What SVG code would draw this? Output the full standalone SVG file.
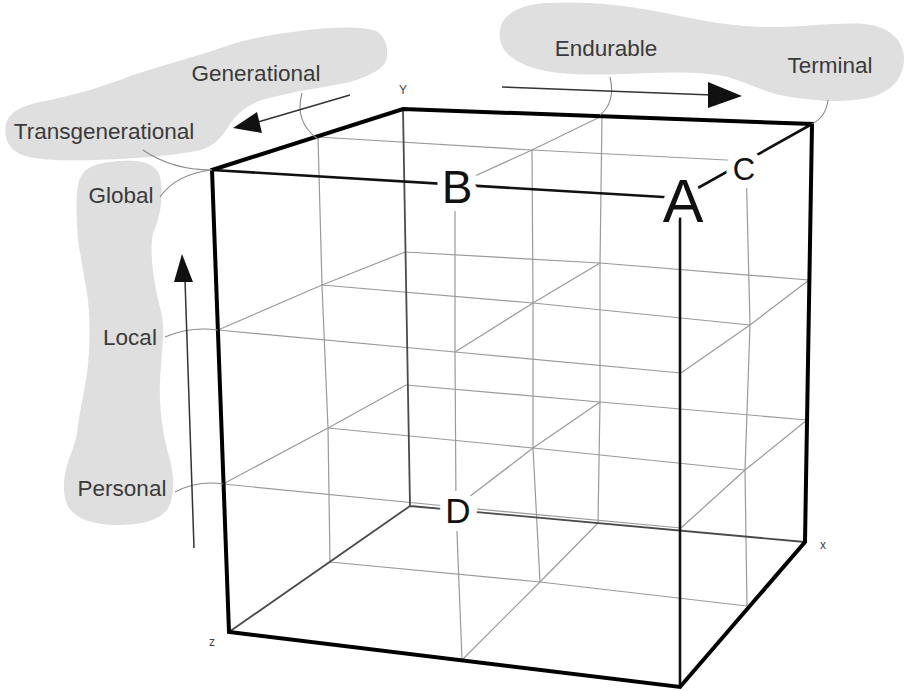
<svg xmlns="http://www.w3.org/2000/svg" width="907" height="691" viewBox="0 0 907 691">
<style>
.blob{fill:#dfdfdf;stroke:none}
.lbl{font-family:"Liberation Sans",Arial,sans-serif;font-size:22.5px;fill:#3a3a3a;text-anchor:middle}
.ax{font-family:"Liberation Sans",Arial,sans-serif;font-size:12px;fill:#444;text-anchor:middle}
.grid{fill:none;stroke:#9a9a9a;stroke-width:1.2}
.hid{fill:none;stroke:#4a4a4a;stroke-width:1.8}
.near{fill:none;stroke:#111;stroke-width:2.6}
.sil{fill:none;stroke:#000;stroke-width:4;stroke-linejoin:miter}
.lead{fill:none;stroke:#8a8a8a;stroke-width:1.1}
.arr{fill:none;stroke:#333;stroke-width:1.5}
.head{fill:#111}
.big{font-family:"Liberation Sans",Arial,sans-serif;fill:#111;text-anchor:middle;stroke:#fff;stroke-width:16;stroke-linejoin:round;paint-order:stroke}
</style>
<rect width="907" height="691" fill="#fff"/>

<g id="blob-time-left">
<path class="blob" d="M387,57 C386,68 370,76 350,82 C320,88 290,92 262,100 C245,106 236,115 230,124 C222,137 212,149 196,151 C170,156 130,159 95,160 C60,161 30,160 18,153 C6,146 4,135 6,124 C9,112 22,106 40,102 C70,96 100,88 133,75 C160,66 190,58 215,50 C240,40 268,35 300,31 C330,27 360,26 376,31 C385,36 388,46 387,57 Z"/>
<text class="lbl" x="256" y="81">Generational</text>
<text class="lbl" x="104" y="139">Transgenerational</text>
</g>

<g id="blob-space">
<path class="blob" d="M84,172 C92,163 115,160 135,161 C152,162 160,170 161,182 C163,200 160,218 153,233 C150,250 152,270 157,295 C161,310 164,322 163,335 C162,360 159,380 160,400 C161,420 164,440 170,460 C175,480 174,500 167,510 C158,521 140,525 117,525 C95,525 78,520 69,508 C62,497 63,480 67,465 C72,450 77,440 78,425 C80,410 85,390 88,365 C90,345 90,320 88,300 C85,280 81,260 78,240 C76,215 76,195 78,185 C79,179 81,175 84,172 Z"/>
<text class="lbl" x="121" y="203">Global</text>
<text class="lbl" x="130" y="345">Local</text>
<text class="lbl" x="122" y="496">Personal</text>
</g>

<g id="blob-time-right">
<path class="blob" d="M500,30 C502,14 520,5 545,3 C580,1 620,4 655,11 C690,18 720,25 760,27 C800,28 835,22 865,24 C890,27 903,40 904,58 C904,78 892,92 868,98 C845,103 815,101 790,97 C765,93 748,83 728,77 C705,72 680,72 650,73 C620,74 590,76 560,73 C530,70 510,60 503,48 C500,42 499,36 500,30 Z"/>
<text class="lbl" x="606" y="56">Endurable</text>
<text class="lbl" x="830" y="73">Terminal</text>
</g>

<g id="cube">
<g id="grid">
<polyline class="grid" points="218,330 455,352 681,373"/>
<polyline class="grid" points="223,484 456,507 681,528"/>
<polyline class="grid" points="318,137 532,150 746,161"/>
<polyline class="grid" points="322,285 533,303 750,325"/>
<polyline class="grid" points="328,428 533,448 745,470"/>
<polyline class="grid" points="330,562 540,582 747,606"/>
<polyline class="grid" points="405,252 600,263 809,280"/>
<polyline class="grid" points="406,385 600,402 807,420"/>
<polyline class="grid" points="218,330 322,285 405,252"/>
<polyline class="grid" points="223,484 328,428 406,385"/>
<polyline class="grid" points="455,185 532,150 602,116"/>
<polyline class="grid" points="455,352 533,303 600,263"/>
<polyline class="grid" points="456,507 533,448 600,402"/>
<polyline class="grid" points="462,660 540,582 598,523"/>
<polyline class="grid" points="681,373 750,325 809,280"/>
<polyline class="grid" points="681,528 745,470 807,420"/>
<polyline class="grid" points="455,185 455,352 456,507 462,660"/>
<polyline class="grid" points="318,137 322,285 328,428 330,562"/>
<polyline class="grid" points="532,150 533,303 533,448 540,582"/>
<polyline class="grid" points="746,161 750,325 745,470 747,606"/>
<polyline class="grid" points="602,116 600,263 600,402 598,523"/>
</g>
<g id="edges">
<path class="hid" d="M403,109 L410,506 M410,506 L805,542 M410,506 L229,632"/>
<path class="near" d="M212,170 L680,198 M680,198 L812,124 M680,198 L680,687"/>
<path class="sil" d="M212,170 L403,109 L812,124 L805,542 L680,687 L229,632 Z"/>
</g>
<g id="point-B"><text class="big" x="457" y="203" font-size="46">B</text></g>
<g id="point-A"><text class="big" x="683" y="222" font-size="61">A</text></g>
<g id="point-C"><text class="big" x="744" y="180" font-size="31" stroke-width="14">C</text></g>
<g id="point-D"><text class="big" x="458" y="523" font-size="35">D</text></g>
<text class="ax" x="403" y="94">Y</text>
<text class="ax" x="823" y="549">x</text>
<text class="ax" x="212" y="646">z</text>
</g>

<g id="connectors">
<path class="lead" d="M302,93 Q294,122 318,139"/>
<path class="lead" d="M143,150 Q172,170 212,170"/>
<path class="lead" d="M160,197 Q176,174 212,170"/>
<path class="lead" d="M165,337 Q190,326 218,330"/>
<path class="lead" d="M175,492 Q198,480 223,484"/>
<path class="lead" d="M610,77 Q616,102 600,115"/>
<path class="lead" d="M828,100 Q826,117 812,124"/>
<line class="arr" x1="350" y1="95" x2="258" y2="122"/>
<polygon class="head" points="233,128 257,112 262,133"/>
<line class="arr" x1="502" y1="87" x2="712" y2="95"/>
<polygon class="head" points="742,96 708,82 708,108"/>
<line class="arr" x1="194" y1="548" x2="185" y2="280"/>
<polygon class="head" points="182,254 174,282 193,282"/>
</g>
</svg>
